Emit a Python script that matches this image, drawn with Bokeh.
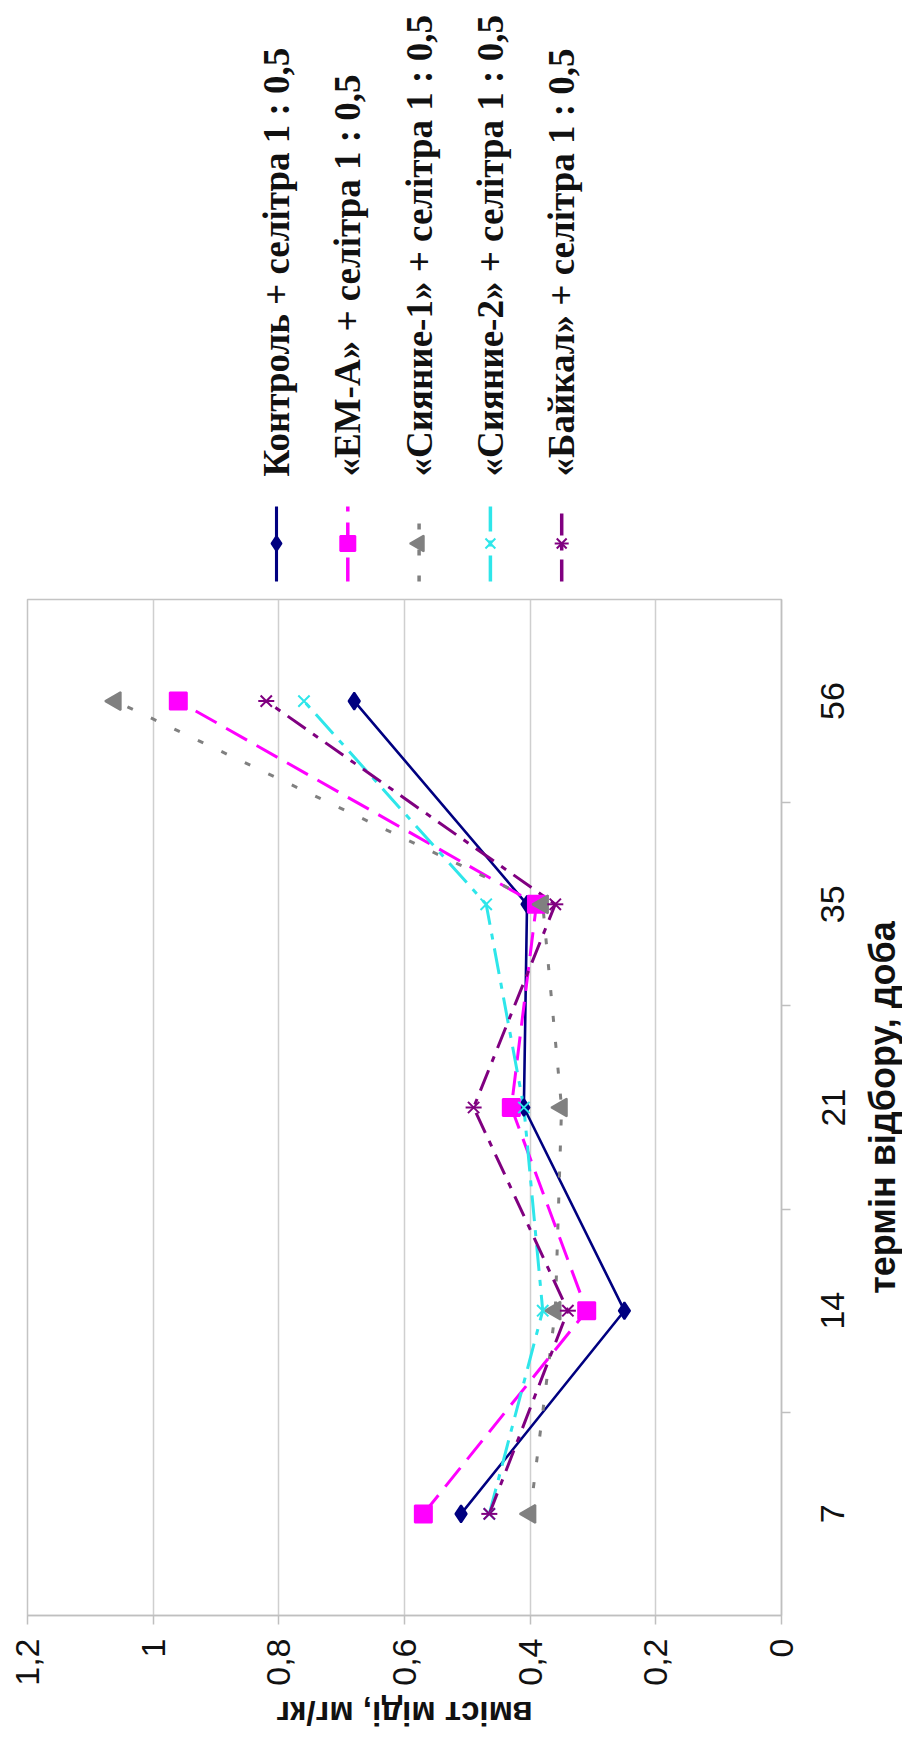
import json
from math import pi
from bokeh.plotting import figure
from bokeh.layouts import column, row
from bokeh.models import Range1d, FixedTicker, LinearAxis, CustomJSTickFormatter
from bokeh.core.properties import value
from bokeh.embed import file_html
from bokeh.resources import INLINE

# ---------------- data ----------------
days = ["7", "14", "21", "35", "56"]
value_ticks = [0, 0.2, 0.4, 0.6, 0.8, 1.0, 1.2]
value_tick_labels = ["0", "0,2", "0,4", "0,6", "0,8", "1", "1,2"]

series_names = [
    "Контроль + селітра 1 : 0,5",
    "«ЕМ-А» + селітра 1 : 0,5",
    "«Сияние-1» + селітра 1 : 0,5",
    "«Сияние-2» + селітра 1 : 0,5",
    "«Байкал» + селітра 1 : 0,5",
]
control = [0.51, 0.25, 0.41, 0.405, 0.68]
em_a = [0.57, 0.31, 0.43, 0.39, 0.96]
syyanie1 = [0.40, 0.36, 0.35, 0.38, 1.06]
syyanie2 = [0.465, 0.38, 0.41, 0.47, 0.76]
baikal = [0.465, 0.34, 0.49, 0.36, 0.82]

x_title = "вміст міді, мг/кг"
y_title = "термін відбору, доба"

# ---------------- styles ----------------
series_values = [control, em_a, syyanie1, syyanie2, baikal]
colors = ["#000080", "#FF00FF", "#808080", "#2EE6EA", "#800080"]
dashes = ["solid", "24 11", "6 20", "26 9 6 9", "22 9 6 9"]
widths = [2.6, 3, 3, 3, 3]
markers = [("diamond", 0), ("square", 0), ("triangle", pi / 2), ("x", 0), ("x", 0)]
msizes = [17, 17, 18, 16, 16]
TXT = "#111111"

# ---------------- page geometry (px) ----------------
PAGE_W, PAGE_H = 902, 1732
FL, FR = 27, 781            # plot frame left / right
LEG_H = 593
TOP_B, FRAME_H, BOT_B = 6, 1016, 78
MAIN_W = FR + 22
MAIN_H = TOP_B + FRAME_H + BOT_B
SIDE_W = PAGE_W - MAIN_W
SIDE_LB = 55
TITLE_H = PAGE_H - LEG_H - MAIN_H

# category slots on a linear scale: each day occupies one unit, centred on i + 0.5
cat_pos = [i + 0.5 for i in range(len(days))]
cat_bounds = [i for i in range(1, len(days))]
cat_fmt = CustomJSTickFormatter(code="const L = " + json.dumps(days) + "; return L[Math.floor(tick)];")

def blank(fig):
    fig.outline_line_color = None
    fig.grid.visible = False

# ---------------- legend strip (above the plot) ----------------
lg = figure(width=MAIN_W, height=LEG_H, x_range=Range1d(FL, FR), y_range=Range1d(0, LEG_H),
            output_backend="svg", toolbar_location=None,
            min_border_left=FL, min_border_right=MAIN_W - FR, min_border_top=0, min_border_bottom=0,
            x_axis_location=None, y_axis_location=None)
blank(lg)
for i, name in enumerate(series_names):
    lx = 276 + i * 71.3
    lg.text(x=[lx], y=[LEG_H - 476], text=[name], angle=pi / 2,
            text_font=value("Liberation Serif"), text_font_style="bold",
            text_font_size="37px", text_color=TXT,
            text_align="left", text_baseline="middle")
    lg.line(x=[lx, lx], y=[LEG_H - 581, LEG_H - 506], line_color=colors[i],
            line_width=widths[i] + 0.5, line_dash=dashes[i])
    mk, ang = markers[i]
    lg.scatter(x=[lx], y=[LEG_H - 543], marker=mk, angle=ang, size=msizes[i] - 2,
               fill_color=colors[i], line_color=colors[i], line_width=2)
    if i == 4:
        lg.scatter(x=[lx], y=[LEG_H - 543], marker="dash", size=msizes[i] - 2,
                   line_color=colors[i], line_width=2)

# ---------------- main plot ----------------
p = figure(width=MAIN_W, height=MAIN_H, x_range=Range1d(value_ticks[-1], value_ticks[0]),
           y_range=Range1d(0, len(days)),
           output_backend="svg", toolbar_location=None,
           x_axis_location="below", y_axis_location=None,
           min_border_left=FL, min_border_right=MAIN_W - FR,
           min_border_top=TOP_B, min_border_bottom=BOT_B)
p.outline_line_color = "#C4C4C4"
p.outline_line_width = 1.5

xa = p.xaxis[0]
xa.ticker = FixedTicker(ticks=value_ticks)
lab_map = {f"{t:.1f}": l for t, l in zip(value_ticks, value_tick_labels)}
xa.formatter = CustomJSTickFormatter(code="const L = " + json.dumps(lab_map) + "; const k = tick.toFixed(1); return (k in L) ? L[k] : '';")
xa.major_label_orientation = pi / 2
xa.major_label_text_font = "Liberation Sans"
xa.major_label_text_font_size = "34px"
xa.major_label_text_color = TXT
xa.major_label_standoff = 14
xa.major_tick_out = 9
xa.major_tick_in = 0
xa.minor_tick_out = 0
xa.minor_tick_in = 0
xa.axis_line_color = "#BFBFBF"
xa.axis_line_width = 1.5
xa.major_tick_line_color = "#BFBFBF"
xa.major_tick_line_width = 1.5

p.xgrid.ticker = FixedTicker(ticks=value_ticks)
p.xgrid.grid_line_color = "#CFCFCF"
p.xgrid.grid_line_width = 1.5
p.ygrid.visible = False

# right-hand category axis line with tick marks between categories
ra = LinearAxis(ticker=FixedTicker(ticks=cat_pos, minor_ticks=cat_bounds),
                formatter=CustomJSTickFormatter(code="return '';"))
ra.major_label_text_font_size = "1px"
ra.major_label_standoff = 0
ra.major_tick_out = 0
ra.major_tick_in = 0
ra.minor_tick_out = 9
ra.minor_tick_in = 0
ra.minor_tick_line_color = "#BFBFBF"
ra.minor_tick_line_width = 1.5
ra.axis_line_color = "#BFBFBF"
ra.axis_line_width = 1.5
p.add_layout(ra, "right")

for i, vals in enumerate(series_values):
    p.line(x=vals, y=cat_pos, line_color=colors[i], line_width=widths[i], line_dash=dashes[i])
for i, vals in enumerate(series_values):
    mk, ang = markers[i]
    p.scatter(x=vals, y=cat_pos, marker=mk, angle=ang, size=msizes[i],
              fill_color=colors[i], line_color=colors[i], line_width=2)
    if i == 4:
        p.scatter(x=vals, y=cat_pos, marker="dash", size=msizes[i],
                  line_color=colors[i], line_width=2)

# ---------------- right strip: category labels + axis title ----------------
rt = figure(width=SIDE_W, height=MAIN_H, x_range=Range1d(0, SIDE_W - SIDE_LB), y_range=p.y_range,
            output_backend="svg", toolbar_location=None,
            x_axis_location=None, y_axis_location="left",
            min_border_left=SIDE_LB, min_border_right=0,
            min_border_top=TOP_B, min_border_bottom=BOT_B)
blank(rt)
ca = rt.yaxis[0]
ca.ticker = FixedTicker(ticks=cat_pos)
ca.formatter = cat_fmt
ca.major_label_orientation = "vertical"
ca.major_label_text_font = "Liberation Sans"
ca.major_label_text_font_size = "34px"
ca.major_label_text_color = TXT
ca.major_label_standoff = 14
ca.major_tick_out = 0
ca.major_tick_in = 0
ca.minor_tick_out = 0
ca.minor_tick_in = 0
ca.axis_line_color = None
rt.text(x=[24], y=[len(days) / 2], text=[y_title], angle=pi / 2,
        text_font=value("Liberation Sans"), text_font_style="bold",
        text_font_size="36px", text_color=TXT,
        text_align="center", text_baseline="middle")

# ---------------- bottom strip: value axis title (upside down, as in the rotated page) ----------------
bt = figure(width=MAIN_W, height=TITLE_H, x_range=Range1d(FL, FR), y_range=Range1d(0, TITLE_H),
            output_backend="svg", toolbar_location=None,
            min_border_left=FL, min_border_right=MAIN_W - FR, min_border_top=0, min_border_bottom=0,
            x_axis_location=None, y_axis_location=None)
blank(bt)
bt.text(x=[(FL + FR) / 2], y=[TITLE_H / 2], text=[x_title], angle=pi,
        text_font=value("Liberation Sans"), text_font_style="bold",
        text_font_size="33px", text_color=TXT,
        text_align="center", text_baseline="middle")

layout = column(lg, row(p, rt, spacing=0), bt, spacing=0)
open("out.html", "w").write(file_html(layout, INLINE))
